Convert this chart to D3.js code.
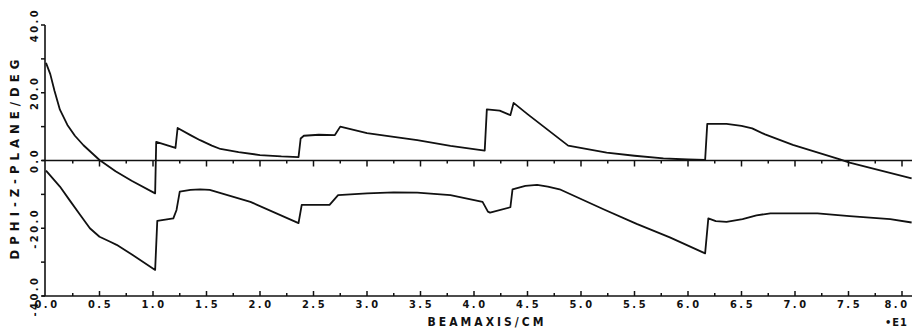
<!DOCTYPE html>
<html>
<head>
<meta charset="utf-8">
<script src="https://cdn.jsdelivr.net/npm/d3@7"></script>
<style>
    body { margin: 0; background: #fff; }
    svg { display: block; }
    text { font-family: "DejaVu Sans Condensed", "DejaVu Sans", sans-serif; font-weight: bold; fill: #111; }
</style>
</head>
<body>
<svg></svg>
<script>
let width = 912, height = 333

// upper curve (cm, deg)
let upperX = [0.0, 0.04, 0.08, 0.13, 0.2, 0.27, 0.35, 0.5, 0.65, 0.8, 1.02, 1.03, 1.21, 1.23, 1.35, 1.44, 1.55, 1.63, 1.8,
    2.0, 2.2, 2.36, 2.38, 2.41, 2.55, 2.70, 2.75, 3.0, 3.25, 3.47, 3.78, 4.10, 4.12, 4.24, 4.34, 4.37, 4.50, 4.88,
    5.24, 5.5, 5.77, 6.0, 6.16, 6.18, 6.36, 6.50, 6.60, 6.72, 6.98, 7.42, 7.51, 8.09]
let upperY = [28.8, 25.5, 20.5, 15.0, 10.5, 7.3, 4.5, 0.15, -3.2, -6.0, -9.7, 5.5, 3.7, 9.6, 7.5, 6.0, 4.4, 3.4, 2.5,
    1.6, 1.2, 1.0, 6.5, 7.3, 7.6, 7.5, 10.0, 8.1, 7.0, 6.0, 4.3, 2.9, 15.1, 14.7, 13.4, 17.0, 13.7, 4.4,
    2.3, 1.4, 0.6, 0.3, 0.15, 10.8, 10.8, 10.2, 9.5, 7.7, 4.6, 0.35, -0.6, -5.3]

// lower curve (cm, deg)
let lowerX = [0.0, 0.13, 0.22, 0.32, 0.41, 0.50, 0.60, 0.66, 0.81, 1.02, 1.04, 1.19, 1.22, 1.25, 1.35, 1.44, 1.53, 1.91,
    2.36, 2.39, 2.65, 2.73, 3.0, 3.25, 3.47, 3.78, 4.08, 4.13, 4.15, 4.34, 4.36, 4.48, 4.59, 4.69, 4.80, 5.21, 5.52,
    5.83, 6.16, 6.19, 6.26, 6.36, 6.51, 6.64, 6.77, 7.21, 7.51, 7.89, 8.09]
let lowerY = [-3.0, -7.7, -11.7, -16.1, -20.0, -22.5, -24.0, -24.9, -27.9, -32.3, -17.8, -17.1, -14.6, -9.2, -8.7, -8.5, -8.7, -12.2,
    -18.5, -13.1, -13.1, -10.2, -9.7, -9.4, -9.5, -10.2, -12.2, -15.1, -15.4, -13.8, -8.5, -7.5, -7.2, -7.7, -8.5, -14.4, -18.7,
    -22.7, -27.4, -17.1, -17.9, -18.1, -17.3, -16.2, -15.6, -15.6, -16.4, -17.3, -18.3]

let xTickValues = d3.range(0, 33).map(i => i * 0.25)
let xTickLabels = ["0.0", "0.5", "1.0", "1.5", "2.0", "2.5", "3.0", "3.5", "4.0", "4.5", "5.0", "5.5", "6.0", "6.5", "7.0", "7.5", "8.0"]
let yTickValues = d3.range(-40, 41, 10)
let yTickLabels = ["-40.0", "-20.0", "0.0", "20.0", "40.0"]

let svg = d3.select("svg").attr("width", width).attr("height", height)

let x = d3.scaleLinear().domain([0, 8]).range([46, 902])
let y = d3.scaleLinear().domain([-40, 40]).range([296, 25])
let axisX = 45

// axes
svg.append("line")
    .attr("x1", axisX).attr("x2", axisX)
    .attr("y1", y(-40)).attr("y2", y(40))
    .attr("stroke", "#111").attr("stroke-width", 1.6)

svg.append("line")
    .attr("x1", axisX - 3).attr("x2", width)
    .attr("y1", y(0)).attr("y2", y(0))
    .attr("stroke", "#111").attr("stroke-width", 1.5)

svg.append("line")
    .attr("x1", axisX - 3).attr("x2", width)
    .attr("y1", y(-40)).attr("y2", y(-40))
    .attr("stroke", "#111").attr("stroke-width", 1.5)

// x ticks: down from zero line, up from bottom line
const isMajor = (v) => Math.abs(v * 2 - Math.round(v * 2)) < 1e-6

svg.selectAll(".tick-zero")
    .data(xTickValues.filter(v => v > 0))
    .enter().append("line")
    .attr("class", "tick-zero")
    .attr("x1", d => x(d)).attr("x2", d => x(d))
    .attr("y1", y(0)).attr("y2", d => y(0) + (isMajor(d) ? 6 : 3))
    .attr("stroke", "#111").attr("stroke-width", 1.5)

svg.selectAll(".tick-bottom")
    .data(xTickValues.filter(v => v > 0))
    .enter().append("line")
    .attr("class", "tick-bottom")
    .attr("x1", d => x(d)).attr("x2", d => x(d))
    .attr("y1", y(-40)).attr("y2", d => y(-40) - (isMajor(d) ? 5 : 3))
    .attr("stroke", "#111").attr("stroke-width", 1.5)

// y ticks to the left
svg.selectAll(".tick-y")
    .data(yTickValues)
    .enter().append("line")
    .attr("class", "tick-y")
    .attr("x1", axisX - 4).attr("x2", axisX)
    .attr("y1", d => y(d)).attr("y2", d => y(d))
    .attr("stroke", "#111").attr("stroke-width", 1.5)

// tick labels
svg.selectAll(".xlabel")
    .data(xTickLabels)
    .enter().append("text")
    .attr("class", "xlabel")
    .attr("x", d => Math.min(x(+d) + 1, 897))
    .attr("y", 308)
    .attr("text-anchor", "middle")
    .attr("font-size", 11)
    .attr("letter-spacing", 2.5)
    .text(d => d)

svg.selectAll(".ylabel")
    .data(yTickLabels)
    .enter().append("text")
    .attr("class", "ylabel")
    .attr("transform", d => `translate(38,${y(+d)}) rotate(-90)`)
    .attr("text-anchor", "middle")
    .attr("font-size", 11)
    .attr("letter-spacing", 2.5)
    .text(d => d)

// axis titles
svg.append("text")
    .attr("transform", `translate(19,157) rotate(-90)`)
    .attr("text-anchor", "middle")
    .attr("font-size", 13)
    .attr("letter-spacing", 5)
    .text("DPHI-Z-PLANE/DEG")

svg.append("text")
    .attr("x", 487).attr("y", 326)
    .attr("text-anchor", "middle")
    .attr("font-size", 12)
    .attr("letter-spacing", 3)
    .text("BEAMAXIS/CM")

svg.append("text")
    .attr("x", 885).attr("y", 326)
    .attr("font-size", 11)
    .attr("letter-spacing", 1)
    .text("•E1")

// curves
let line = d3.line().x(d => x(d[0])).y(d => y(d[1]))

let upper = upperX.map((v, i) => [v, upperY[i]])
let lower = lowerX.map((v, i) => [v, lowerY[i]])

svg.selectAll(".curve")
    .data([upper, lower])
    .enter().append("path")
    .attr("class", "curve")
    .attr("d", line)
    .attr("fill", "none")
    .attr("stroke", "#111")
    .attr("stroke-width", 1.8)
    .attr("stroke-linejoin", "round")
</script>
</body>
</html>
